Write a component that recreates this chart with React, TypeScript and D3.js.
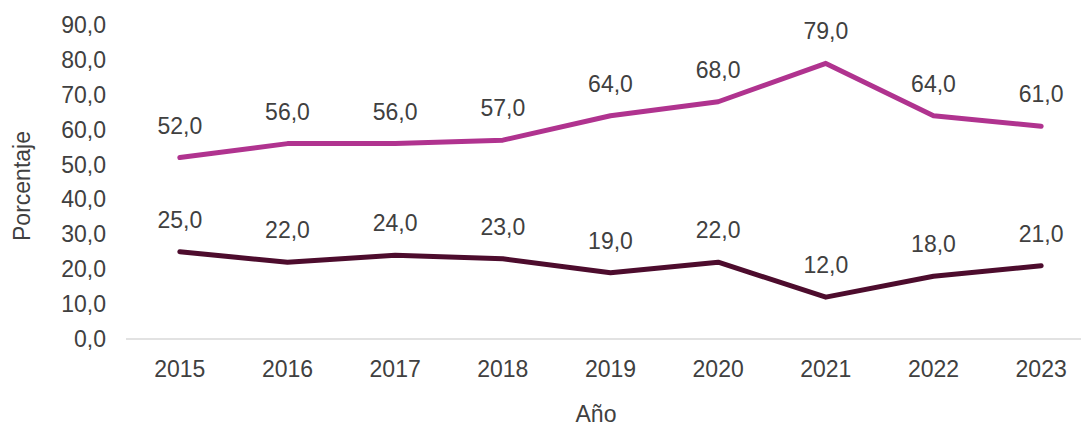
import * as d3 from 'd3';

const YEARS = ['2015', '2016', '2017', '2018', '2019', '2020', '2021', '2022', '2023'];
const SERIES_TOP = [52, 56, 56, 57, 64, 68, 79, 64, 61];
const SERIES_BOTTOM = [25, 22, 24, 23, 19, 22, 12, 18, 21];
const Y_TICKS = [0, 10, 20, 30, 40, 50, 60, 70, 80, 90];

const W = 1081;
const H = 428;
const FONT = 'Liberation Sans, Arial, sans-serif';
const FS = 23;
const TEXT = '#404040';

const series = [
  { id: 'top', values: SERIES_TOP, colour: '#B0338F' },
  { id: 'bottom', values: SERIES_BOTTOM, colour: '#4D0C2D' },
];

export default function App() {
  const x = d3.scaleBand<string>().domain(YEARS).range([126, 1095]);
  const y = d3.scaleLinear().domain([0, 90]).range([339, 25]);
  const cx = (yr: string) => (x(yr) ?? 0) + x.bandwidth() / 2;
  const fmt = (v: number) => v.toFixed(1).replace('.', ',');

  const line = d3.line<number>()
    .x((_, i) => cx(YEARS[i]))
    .y(d => y(d));

  return (
    <svg width={W} height={H} style={{ position: 'absolute', left: 0, top: 0 }}>
      <rect width={W} height={H} fill="#fff" />
      {/* y tick labels */}
      {Y_TICKS.map(t => (
        <text key={t} x={106} y={y(t) + 8} textAnchor="end" fontFamily={FONT} fontSize={FS} fill={TEXT}>
          {fmt(t)}
        </text>
      ))}
      {/* x axis line */}
      <line x1={x.range()[0]} x2={x.range()[1]} y1={y(0)} y2={y(0)} stroke="#D9D9D9" strokeWidth={1.5} />
      {YEARS.map(yr => (
        <text key={yr} x={cx(yr)} y={377} textAnchor="middle" fontFamily={FONT} fontSize={FS} fill={TEXT}>
          {yr}
        </text>
      ))}
      {/* axis titles */}
      <text x={596} y={422} textAnchor="middle" fontFamily={FONT} fontSize={FS} fill={TEXT}>Año</text>
      <text transform={`translate(30,186) rotate(-90)`} textAnchor="middle" fontFamily={FONT} fontSize={FS} fill={TEXT}>
        Porcentaje
      </text>
      {/* lines */}
      {series.map(s => (
        <path key={s.id} d={line(s.values) ?? ''} fill="none" stroke={s.colour} strokeWidth={5}
          strokeLinecap="round" strokeLinejoin="round" />
      ))}
      {/* data labels */}
      {series.map(s => s.values.map((v, i) => (
        <text key={`${s.id}-${i}`} x={cx(YEARS[i])} y={y(v) - 24} textAnchor="middle" fontFamily={FONT} fontSize={FS} fill={TEXT}>
          {fmt(v)}
        </text>
      )))}
    </svg>
  );
}
